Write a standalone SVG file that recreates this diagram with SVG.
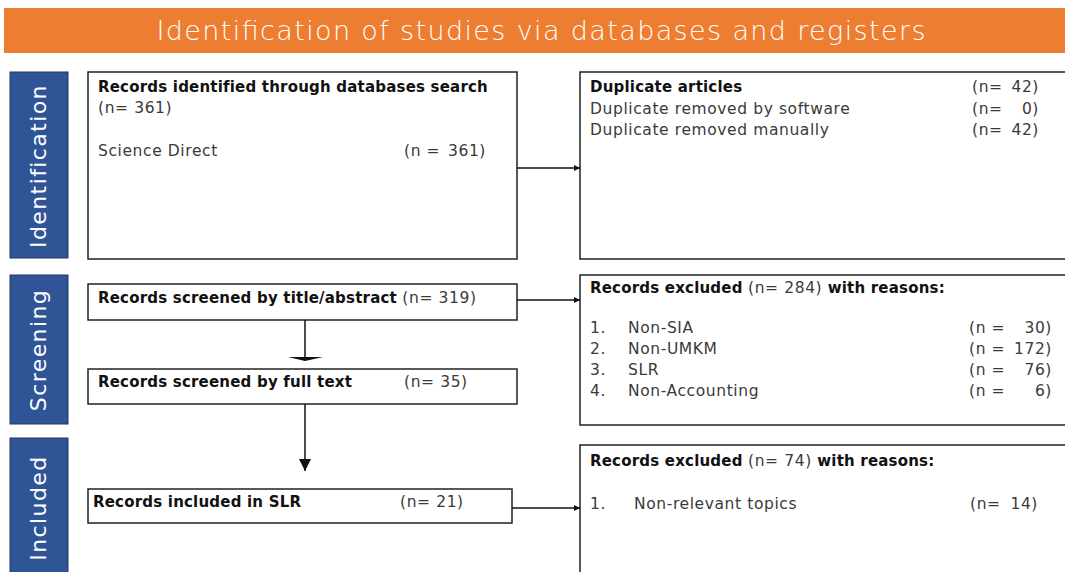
<svg xmlns="http://www.w3.org/2000/svg" width="1065" height="572" viewBox="0 0 1065 572">
<style>
.bg{fill:#ffffff}
.hdr{fill:#ED7D31}
.side{fill:#2F5597;stroke:#1F3864;stroke-width:1}
.box{fill:#ffffff;stroke:#222;stroke-width:1.5}
.t{font-family:"DejaVu Sans","Liberation Sans",sans-serif;font-size:15.5px;letter-spacing:0.6px;fill:#3a3a3a;font-weight:400}
.r{text-anchor:end}
.b{font-family:"DejaVu Sans","Liberation Sans",sans-serif;font-size:15px;letter-spacing:0.2px;font-weight:700;fill:#111}
.side-t{font-family:"DejaVu Sans","Liberation Sans",sans-serif;font-size:22px;letter-spacing:1.4px;fill:#fff;text-anchor:middle}
.title{font-family:"DejaVu Sans","Liberation Sans",sans-serif;font-size:27px;font-weight:200;fill:#fff;text-anchor:middle}
.line{stroke:#111;stroke-width:1.5;fill:none}
</style>
<defs>
<marker id="ah" viewBox="0 0 10 10" refX="10" refY="5" markerWidth="6" markerHeight="6" orient="auto" markerUnits="userSpaceOnUse">
<path d="M0,0 L10,5 L0,10 z" fill="#111"/>
</marker>
<marker id="ahd" viewBox="0 0 10 10" refX="10" refY="5" markerWidth="12" markerHeight="24" orient="auto" markerUnits="userSpaceOnUse">
<path d="M0,0 L10,5 L0,10 z" fill="#111"/>
</marker>
</defs>
<rect class="bg" x="0" y="0" width="1065" height="572"/>
<g id="header">
<rect class="hdr" x="4" y="8" width="1061" height="45"/>
<text class="title" x="541" y="40" textLength="769" lengthAdjust="spacing">Identification of studies via databases and registers</text>
</g>
<g id="phase-identification">
<rect class="side" x="10" y="72" width="58" height="186"/>
<text class="side-t" transform="translate(46,166) rotate(-90)">Identification</text>
</g>
<g id="phase-screening">
<rect class="side" x="10" y="275" width="58" height="149"/>
<text class="side-t" transform="translate(46,350) rotate(-90)">Screening</text>
</g>
<g id="phase-included">
<rect class="side" x="10" y="438" width="58" height="140"/>
<text class="side-t" transform="translate(46,508) rotate(-90)">Included</text>
</g>
<g id="node-identified">
<rect class="box" x="88" y="72" width="429" height="187"/>
<text class="b" x="98" y="92">Records identified through databases search</text>
<text class="t" x="98" y="113">(n= 361)</text>
<text class="t" x="98" y="156">Science Direct</text>
<text class="t" x="404" y="156">(n =</text>
<text class="t r" x="486" y="156">361)</text>
</g>
<g id="node-duplicates">
<rect class="box" x="580" y="72" width="490" height="187"/>
<text class="b" x="590" y="92">Duplicate articles</text>
<text class="t" x="972" y="92">(n=</text><text class="t r" x="1039" y="92">42)</text>
<text class="t" x="590" y="113.5">Duplicate removed by software</text>
<text class="t" x="972" y="113.5">(n=</text><text class="t r" x="1039" y="113.5">0)</text>
<text class="t" x="590" y="135">Duplicate removed manually</text>
<text class="t" x="972" y="135">(n=</text><text class="t r" x="1039" y="135">42)</text>
</g>
<g id="node-screened-title">
<rect class="box" x="88" y="284" width="429" height="36"/>
<text class="b" x="98" y="303">Records screened by title/abstract <tspan class="t">(n= 319)</tspan></text>
</g>
<g id="node-excluded-1">
<rect class="box" x="580" y="275" width="490" height="150"/>
<text class="b" x="590" y="293">Records excluded <tspan class="t">(n= 284)</tspan> with reasons:</text>
<text class="t" x="590" y="333">1.</text><text class="t" x="628" y="333">Non-SIA</text><text class="t" x="969" y="333">(n =</text><text class="t r" x="1052" y="333">30)</text>
<text class="t" x="590" y="354">2.</text><text class="t" x="628" y="354">Non-UMKM</text><text class="t" x="969" y="354">(n =</text><text class="t r" x="1052" y="354">172)</text>
<text class="t" x="590" y="375">3.</text><text class="t" x="628" y="375">SLR</text><text class="t" x="969" y="375">(n =</text><text class="t r" x="1052" y="375">76)</text>
<text class="t" x="590" y="396">4.</text><text class="t" x="628" y="396">Non-Accounting</text><text class="t" x="969" y="396">(n =</text><text class="t r" x="1052" y="396">6)</text>
</g>
<g id="node-screened-full">
<rect class="box" x="88" y="369" width="429" height="35"/>
<text class="b" x="98" y="387">Records screened by full text</text>
<text class="t" x="404" y="387">(n= 35)</text>
</g>
<g id="node-included">
<rect class="box" x="88" y="489" width="424" height="34"/>
<text class="b" x="93" y="507">Records included in SLR</text>
<text class="t" x="400" y="507">(n= 21)</text>
</g>
<g id="node-excluded-2">
<rect class="box" x="580" y="445" width="490" height="140"/>
<text class="b" x="590" y="466">Records excluded <tspan class="t">(n= 74)</tspan> with reasons:</text>
<text class="t" x="590" y="509">1.</text><text class="t" x="634" y="509">Non-relevant topics</text><text class="t" x="970" y="509">(n=</text><text class="t r" x="1038" y="509">14)</text>
</g>
<g id="connectors">
<line class="line" x1="517" y1="168" x2="580" y2="168" marker-end="url(#ah)"/>
<line class="line" x1="517" y1="300" x2="580" y2="300" marker-end="url(#ah)"/>
<line class="line" x1="305" y1="320" x2="305" y2="358"/>
<polygon points="288,357 323,357 305,361" fill="#111"/>
<line class="line" x1="305" y1="404" x2="305" y2="471" marker-end="url(#ahd)"/>
<line class="line" x1="512" y1="508" x2="580" y2="508" marker-end="url(#ah)"/>
</g>
</svg>
